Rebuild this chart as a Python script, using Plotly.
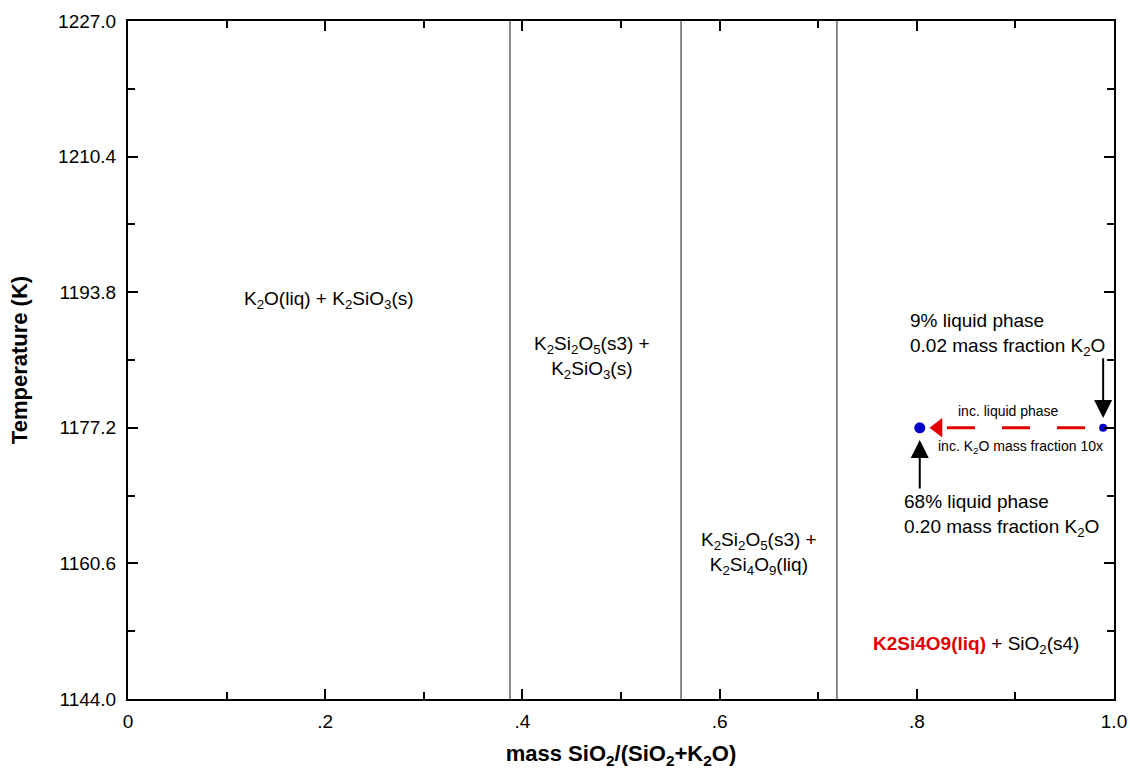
import plotly.graph_objects as go

# ---- data ----
x_range = [0.0, 1.0]
t_range = [1144.0, 1227.0]
x_tickvals = [0.0, 0.2, 0.4, 0.6, 0.8, 1.0]
x_ticktext = ["0", ".2", ".4", ".6", ".8", "1.0"]
t_tickvals = [1144.0, 1160.6, 1177.2, 1193.8, 1210.4, 1227.0]
t_ticktext = ["1144.0", "1160.6", "1177.2", "1193.8", "1210.4", "1227.0"]
t_minor = [1152.3, 1168.9, 1185.5, 1202.1, 1218.7]

boundary_x = [0.3874, 0.5609, 0.719]

point_x = [0.803, 0.989]
point_t = [1177.2, 1177.2]
point_size = [11, 8]

dash_x = [0.8306, 0.989]
dash_t = [1177.2, 1177.2]
arrowhead_x = [0.8215]
arrowhead_t = [1177.2]

FONT = "Liberation Sans, Arial, Helvetica, sans-serif"

fig = go.Figure()

for bx in boundary_x:
    fig.add_trace(go.Scatter(x=[bx, bx], y=t_range, mode="lines",
                             line=dict(color="#1a1a1a", width=1),
                             showlegend=False, hoverinfo="skip"))

fig.add_trace(go.Scatter(x=dash_x, y=dash_t, mode="lines",
                         line=dict(color="#e00000", width=3, dash="28px,27px"),
                         showlegend=False, hoverinfo="skip"))
fig.add_trace(go.Scatter(x=arrowhead_x, y=arrowhead_t, mode="markers",
                         marker=dict(symbol="triangle-left", size=17, color="#e00000",
                                     opacity=1, line=dict(width=0)),
                         showlegend=False, hoverinfo="skip"))
fig.add_trace(go.Scatter(x=point_x, y=point_t, mode="markers",
                         marker=dict(size=point_size, color="#0000c8", opacity=1,
                                     line=dict(width=0)),
                         showlegend=False, hoverinfo="skip"))

ann = []
def txt(x, y, text, size=19, align="center", xanchor="center", color="black"):
    ann.append(dict(x=x, y=y, xref="x", yref="y", text=text, showarrow=False,
                    font=dict(family=FONT, size=size, color=color),
                    align=align, xanchor=xanchor, yanchor="middle"))

txt(0.204, 1192.85, "K<sub>2</sub>O(liq) + K<sub>2</sub>SiO<sub>3</sub>(s)")
txt(0.4706, 1185.75, "K<sub>2</sub>Si<sub>2</sub>O<sub>5</sub>(s3) +<br>K<sub>2</sub>SiO<sub>3</sub>(s)")
txt(0.640, 1161.87, "K<sub>2</sub>Si<sub>2</sub>O<sub>5</sub>(s3) +<br>K<sub>2</sub>Si<sub>4</sub>O<sub>9</sub>(liq)")
txt(0.791, 1188.68, "9% liquid phase<br>0.02 mass fraction K<sub>2</sub>O", align="left", xanchor="left")
txt(0.785, 1166.5, "68% liquid phase<br>0.20 mass fraction K<sub>2</sub>O", align="left", xanchor="left")
txt(0.8925, 1179.3, "inc. liquid phase", size=14)
txt(0.8195, 1174.85, "inc. K<sub>2</sub>O mass fraction 10x", size=14, align="left", xanchor="left")
txt(0.8605, 1150.6, "<span style='color:#e00000'><b>K2Si4O9(liq)</b></span> + SiO<sub>2</sub>(s4)")

# black arrows
ann.append(dict(x=0.989, y=1178.4, ax=0.989, ay=1185.9, xref="x", yref="y",
                axref="x", ayref="y", showarrow=True, arrowhead=2, arrowsize=1.8,
                arrowwidth=2, arrowcolor="black", text=""))
ann.append(dict(x=0.803, y=1175.7, ax=0.803, ay=1169.6, xref="x", yref="y",
                axref="x", ayref="y", showarrow=True, arrowhead=2, arrowsize=1.8,
                arrowwidth=2, arrowcolor="black", text=""))

fig.update_layout(
    width=1130, height=769,
    margin=dict(l=128, r=16, t=21, b=70, autoexpand=False),
    paper_bgcolor="white", plot_bgcolor="white",
    font=dict(family=FONT, size=19, color="black"),
    annotations=ann,
    showlegend=False,
)
fig.update_xaxes(range=x_range, tickvals=x_tickvals, ticktext=x_ticktext,
                 ticks="inside", ticklen=10, tickwidth=2, tickcolor="black",
                 minor=dict(ticks="inside", ticklen=7, tickwidth=2, tickcolor="black", dtick=0.1),
                 showline=True, linewidth=2, linecolor="black", mirror="ticks",
                 showgrid=False, zeroline=False, automargin=False,
                 ticklabelstandoff=4,
                 tickfont=dict(family=FONT, size=19),
                 title=dict(text="<b>mass SiO<sub>2</sub>/(SiO<sub>2</sub>+K<sub>2</sub>O)</b>",
                            font=dict(family=FONT, size=22), standoff=20))
fig.update_yaxes(range=t_range, tickvals=t_tickvals, ticktext=t_ticktext,
                 ticks="inside", ticklen=10, tickwidth=2, tickcolor="black",
                 minor=dict(ticks="inside", ticklen=7, tickwidth=2, tickcolor="black",
                            tickvals=t_minor),
                 showline=True, linewidth=2, linecolor="black", mirror="ticks",
                 showgrid=False, zeroline=False, automargin=False,
                 ticklabelstandoff=6,
                 tickfont=dict(family=FONT, size=19),
                 title=dict(text="<b>Temperature (K)</b>", font=dict(family=FONT, size=22),
                            standoff=24))

fig.write_html("out.html", config={"displayModeBar": False},
               post_script="document.body.style.margin='0';document.body.style.overflow='hidden';")
